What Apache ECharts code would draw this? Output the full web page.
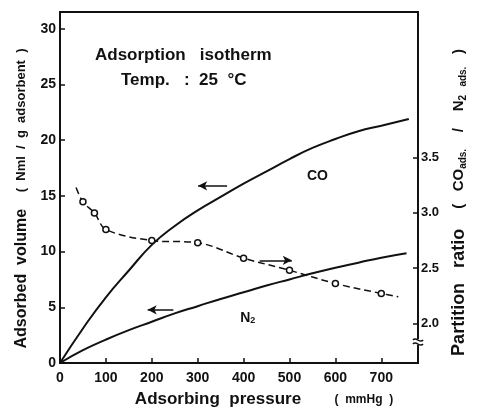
<!DOCTYPE html>
<html>
<head>
<meta charset="utf-8">
<script src="https://cdn.jsdelivr.net/npm/echarts@6/dist/echarts.min.js"></script>
<style>
  html, body { margin: 0; padding: 0; background: #fff; }
  #chart { width: 478px; height: 419px; }
</style>
</head>
<body>
<div id="chart"></div>
<script>
// adsorption isotherms (mmHg -> Nml / g adsorbent)
const pressureCO = [0, 50, 100, 150, 200, 250, 300, 350, 400, 450, 500, 550, 600, 650, 700, 760];
const volumeCO = [0, 3.1, 5.9, 8.3, 10.6, 12.3, 13.7, 14.9, 16.1, 17.2, 18.3, 19.3, 20.1, 20.8, 21.3, 21.9];

const pressureN2 = [0, 50, 100, 150, 200, 250, 300, 350, 400, 450, 500, 550, 600, 650, 700, 755];
const volumeN2 = [0, 1.15, 2.1, 2.95, 3.7, 4.45, 5.1, 5.75, 6.35, 6.95, 7.5, 8.05, 8.55, 9.0, 9.45, 9.85];

// partition ratio, measured points
const pressureRatio = [50, 75, 100, 200, 300, 400, 500, 600, 700];
const ratio = [3.10, 3.00, 2.85, 2.75, 2.73, 2.59, 2.48, 2.36, 2.27];
// dashed fitted curve runs a bit past the first and last point
const ratioCurveStart = [35, 3.23];
const ratioCurveEnd = [737, 2.24];

const ratioTicks = [2.0, 2.5, 3.0, 3.5];

const black = "#111";
const font = "'Liberation Sans', Arial, sans-serif";

const pairs = (xs, ys) => xs.map((x, i) => [x, ys[i]]);

const chart = echarts.init(document.getElementById("chart"));

const ratioLine = [ratioCurveStart]
  .concat(pairs(pressureRatio, ratio))
  .concat([ratioCurveEnd])
  .map((p, i, arr) =>
    i === 0 || i === arr.length - 1 ? { value: p, symbol: "none" } : p
  );

const arrowLine = {
  silent: true,
  symbol: ["none", "arrow"],
  symbolSize: [7, 9],
  label: { show: false },
  lineStyle: { type: "solid", color: black, width: 1.5 },
};

const tickLabel = {
  fontFamily: font,
  fontWeight: "bold",
  fontSize: 14,
  color: black,
};

const option = {
  animation: false,
  backgroundColor: "#fff",
  textStyle: { fontFamily: font, color: black },
  grid: {
    left: 60,
    right: 60,
    top: 12,
    bottom: 56,
    show: true,
    borderColor: black,
    borderWidth: 1.8,
  },
  xAxis: {
    type: "value",
    min: 0,
    max: 780,
    interval: 100,
    name: "{m|Adsorbing  pressure}          {s|(  mmHg  )}",
    nameLocation: "middle",
    nameGap: 28,
    nameTextStyle: {
      padding: [0, 0, 0, 50],
      rich: {
        m: { fontFamily: font, fontWeight: "bold", fontSize: 17, color: black },
        s: { fontFamily: font, fontWeight: "bold", fontSize: 12, color: black },
      },
    },
    splitLine: { show: false },
    axisLine: { lineStyle: { color: black, width: 1.8 } },
    axisTick: { inside: true, length: 5, lineStyle: { color: black, width: 1.5 } },
    axisLabel: Object.assign({ margin: 8, showMaxLabel: false }, tickLabel),
  },
  yAxis: [
    {
      type: "value",
      min: 0,
      max: 31.5,
      interval: 5,
      name: "{m|Adsorbed  volume}     {s|(  Nml  /  g  adsorbent  )}",
      nameLocation: "middle",
      nameRotate: 90,
      nameGap: 30,
      nameTextStyle: {
        padding: [0, 22, 0, 0],
        rich: {
          m: { fontFamily: font, fontWeight: "bold", fontSize: 16, color: black },
          s: { fontFamily: font, fontWeight: "bold", fontSize: 13, color: black },
        },
      },
      splitLine: { show: false },
      axisLine: { show: true, lineStyle: { color: black, width: 1.8 } },
      axisTick: { show: true, inside: true, length: 5, lineStyle: { color: black, width: 1.5 } },
      axisLabel: Object.assign({ margin: 4, showMaxLabel: false }, tickLabel),
    },
    {
      type: "value",
      position: "right",
      min: 1.64,
      max: 4.82,
      name: "{m|Partition   ratio}      {s|(   CO}{sub|ads.}{s|    /    N}{sub|2}{s|  }{sub|ads.}{s|   )}",
      nameLocation: "middle",
      nameRotate: 90,
      nameGap: 30,
      nameTextStyle: {
        padding: [0, 30, 0, 0],
        rich: {
          m: { fontFamily: font, fontWeight: "bold", fontSize: 18, color: black },
          s: { fontFamily: font, fontWeight: "bold", fontSize: 15, color: black },
          sub: { fontFamily: font, fontWeight: "bold", fontSize: 10, color: black, verticalAlign: "bottom" },
        },
      },
      splitLine: { show: false },
      axisLine: { show: true, lineStyle: { color: black, width: 1.8 } },
      axisTick: {
        show: true,
        inside: true,
        length: 5,
        customValues: ratioTicks,
        lineStyle: { color: black, width: 1.5 },
      },
      axisLabel: Object.assign(
        { margin: 3, customValues: ratioTicks, formatter: (v) => v.toFixed(1) },
        tickLabel,
        { fontSize: 13 }
      ),
    },
  ],
  series: [
    {
      name: "CO",
      type: "line",
      data: pairs(pressureCO, volumeCO),
      smooth: true,
      showSymbol: false,
      lineStyle: { color: black, width: 2 },
      markLine: Object.assign({}, arrowLine, {
        data: [[{ coord: [364, 15.9] }, { coord: [301, 15.9] }]],
      }),
      markPoint: {
        silent: true,
        symbolSize: 0,
        data: [{ coord: [561, 16.8] }],
        label: {
          show: true,
          formatter: "CO",
          fontFamily: font,
          fontWeight: "bold",
          fontSize: 14,
          color: black,
        },
      },
    },
    {
      name: "N2",
      type: "line",
      data: pairs(pressureN2, volumeN2),
      smooth: true,
      showSymbol: false,
      lineStyle: { color: black, width: 2 },
      markLine: Object.assign({}, arrowLine, {
        data: [[{ coord: [247, 4.77] }, { coord: [191, 4.77] }]],
      }),
      markPoint: {
        silent: true,
        symbolSize: 0,
        data: [{ coord: [409, 4.05] }],
        label: {
          show: true,
          formatter: "{a|N}{b|2}",
          rich: {
            a: { fontFamily: font, fontWeight: "bold", fontSize: 14, color: black },
            b: { fontFamily: font, fontWeight: "bold", fontSize: 9, color: black, verticalAlign: "bottom" },
          },
        },
      },
    },
    {
      name: "Partition ratio",
      type: "line",
      yAxisIndex: 1,
      data: ratioLine,
      smooth: 0.35,
      symbol: "circle",
      symbolSize: 6,
      showAllSymbol: true,
      itemStyle: { color: "#fff", borderColor: black, borderWidth: 1.5 },
      lineStyle: { color: black, width: 1.5, type: [7, 4] },
      markLine: Object.assign({}, arrowLine, {
        data: [[{ coord: [435, 2.57] }, { coord: [505, 2.57] }]],
      }),
    },
  ],
};

chart.setOption(option);

// title texts + axis break mark on the right axis, below 2.0
const bx = chart.convertToPixel({ xAxisIndex: 0 }, 780);
const by = chart.convertToPixel({ yAxisIndex: 1 }, 1.83);
chart.setOption({
  graphic: [
    {
      id: "title1",
      type: "text",
      left: 95,
      top: 47,
      style: { text: "Adsorption   isotherm", font: "bold 17px " + font, fill: black },
    },
    {
      id: "title2",
      type: "text",
      left: 121,
      top: 72,
      style: { text: "Temp.   :  25  °C", font: "bold 17px " + font, fill: black },
    },
    {
      id: "gap",
      type: "rect",
      shape: { x: bx - 5, y: by - 3, width: 10, height: 6 },
      style: { fill: "#fff" },
      z: 100,
    },
    {
      id: "brk1",
      type: "bezierCurve",
      shape: { x1: bx - 5, y1: by - 2, x2: bx + 5, y2: by - 2, cpx1: bx - 2, cpy1: by - 6, cpx2: bx + 2, cpy2: by + 2 },
      style: { stroke: black, lineWidth: 1.5, fill: null },
      z: 101,
    },
    {
      id: "brk2",
      type: "bezierCurve",
      shape: { x1: bx - 5, y1: by + 2, x2: bx + 5, y2: by + 2, cpx1: bx - 2, cpy1: by - 2, cpx2: bx + 2, cpy2: by + 6 },
      style: { stroke: black, lineWidth: 1.5, fill: null },
      z: 101,
    },
  ],
});
</script>
</body>
</html>
